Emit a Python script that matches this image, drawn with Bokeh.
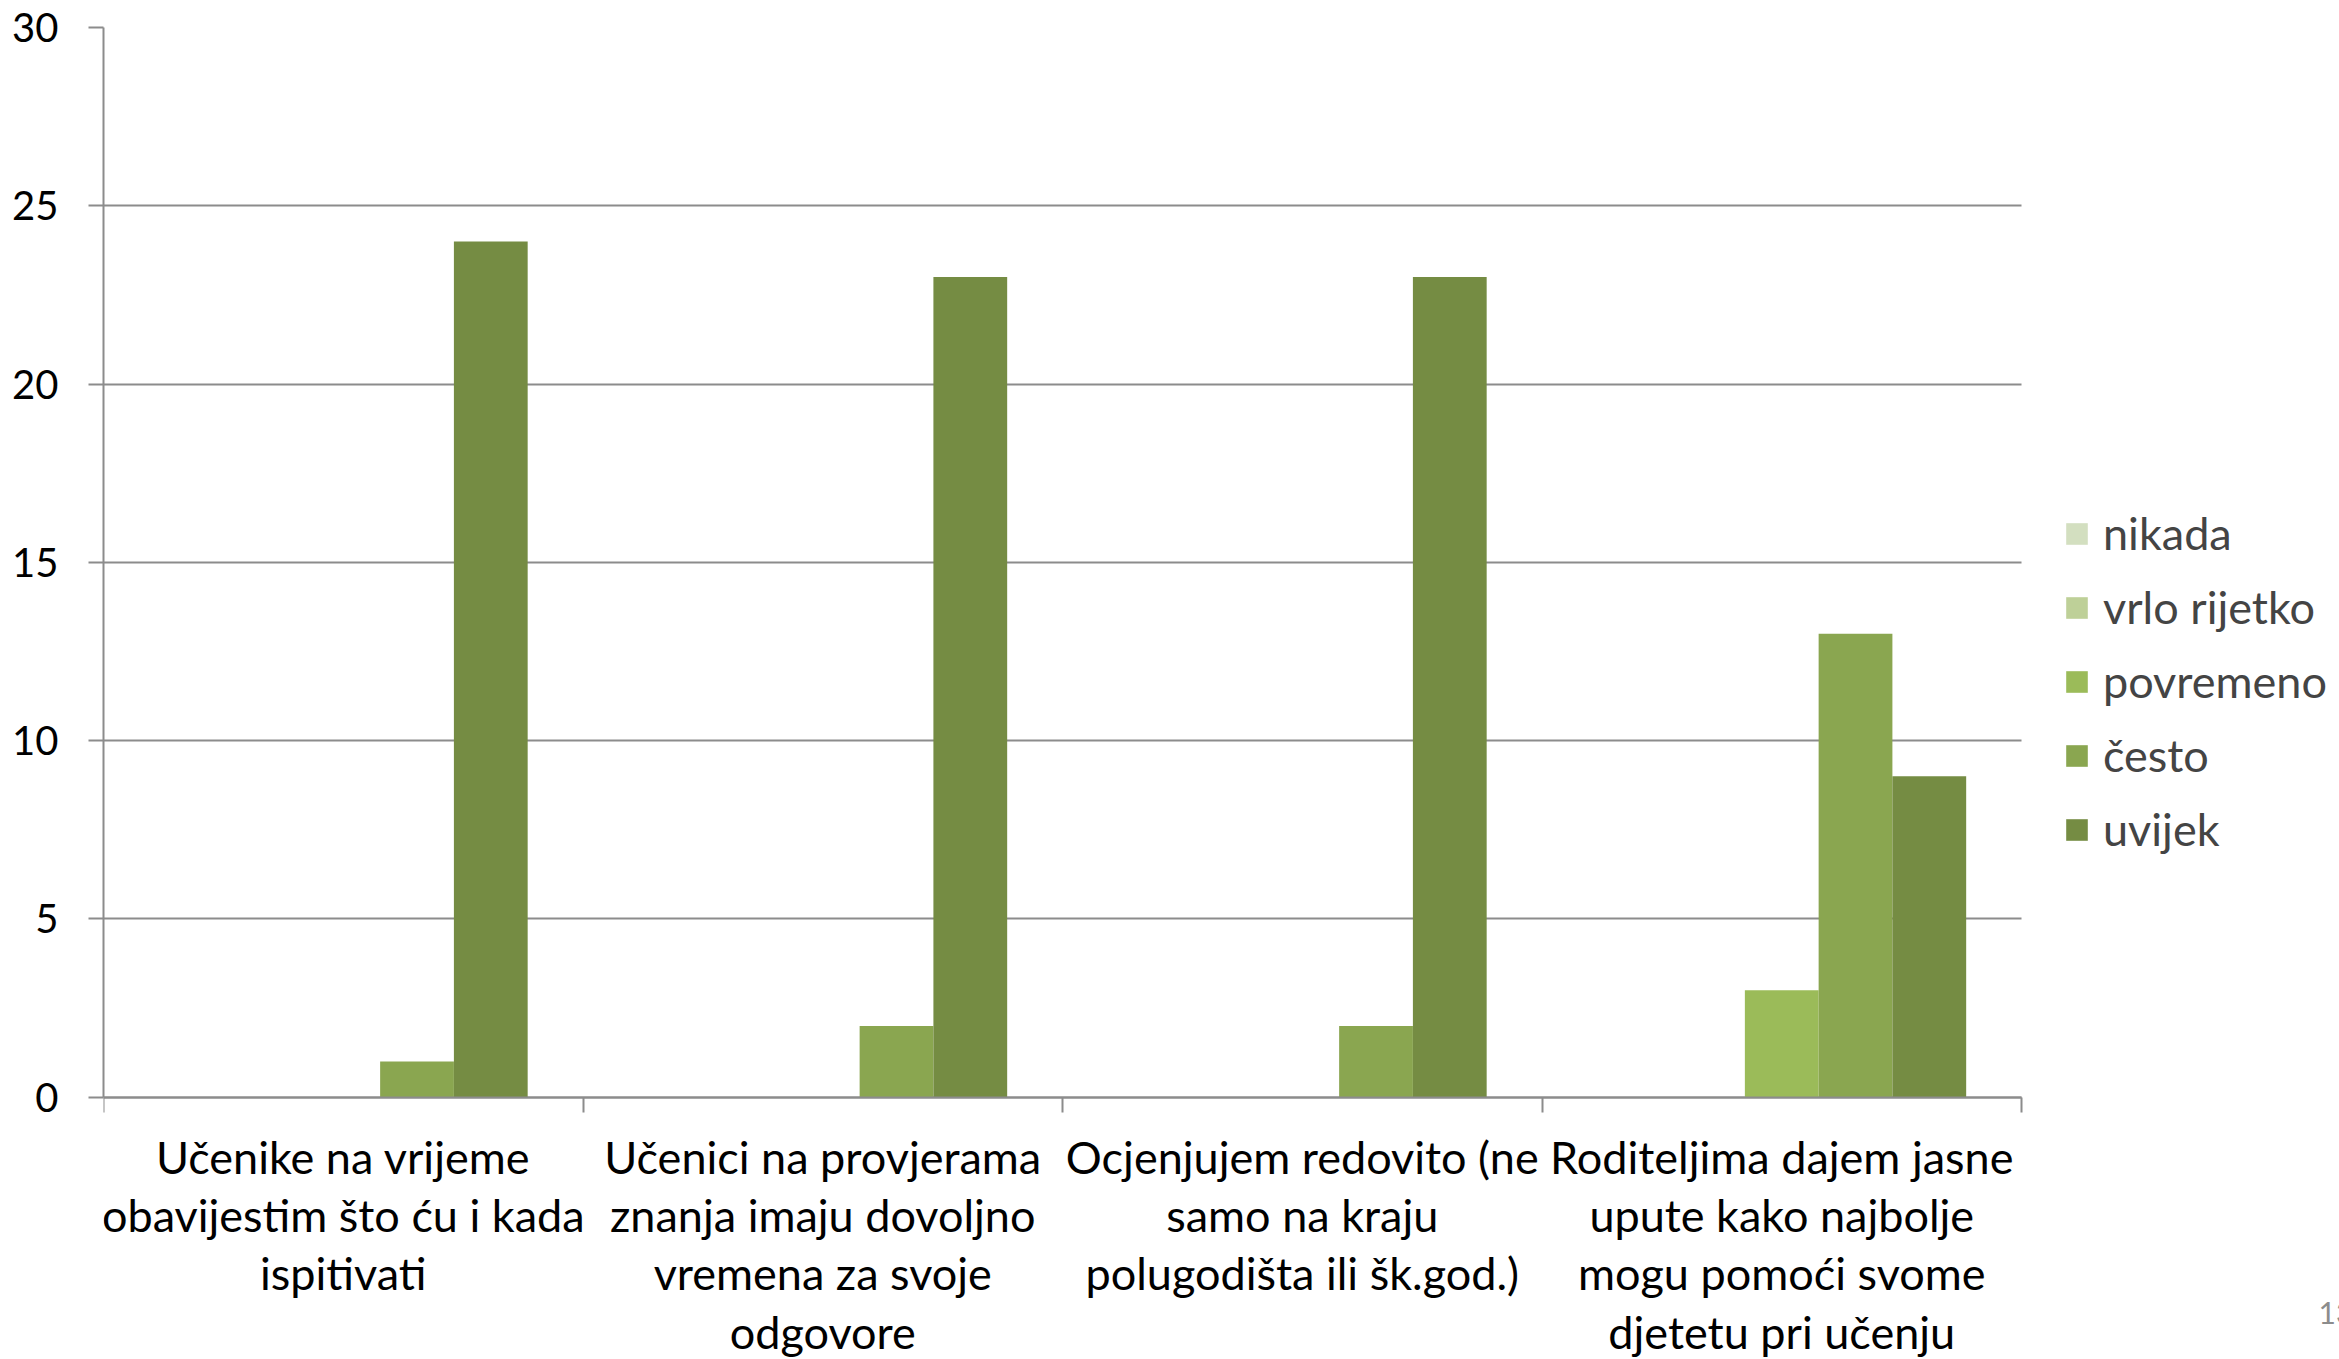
from bokeh.plotting import figure
from bokeh.models import Range1d, FixedTicker, Legend, LegendItem, Grid
from bokeh.core.properties import value
from bokeh.embed import file_html
from bokeh.resources import INLINE

# ---- data ----
category_lines = [
    ["Učenike na vrijeme", "obavijestim što ću i kada", "ispitivati"],
    ["Učenici na provjerama", "znanja imaju dovoljno", "vremena za svoje", "odgovore"],
    ["Ocjenjujem redovito (ne", "samo na kraju", "polugodišta ili šk.god.)"],
    ["Roditeljima dajem jasne", "upute kako najbolje", "mogu pomoći svome", "djetetu pri učenju"],
]
series_names = ["nikada", "vrlo rijetko", "povremeno", "često", "uvijek"]
nikada = [0, 0, 0, 0]
vrlo_rijetko = [0, 0, 0, 0]
povremeno = [0, 0, 0, 3]
cesto = [1, 2, 2, 13]
uvijek = [24, 23, 23, 9]
y_ticks = [0, 5, 10, 15, 20, 25, 30]
page_number = "13"

colors = ["#D3DFC0", "#BED098", "#9BBB59", "#8AA650", "#758C43"]
series = [nikada, vrlo_rijetko, povremeno, cesto, uvijek]

FONT = "Lato"
GRID = "#8C8C8C"
n_cat = len(category_lines)

# ---- layout constants (pixels) ----
W, H = 2339, 1359
LEFT, TOP, BOTTOM = 103, 27, 0
CAT_W = 479.5                       # pixel width of one category
Y_MAX = 30
AXIS_Y = 1096.7                     # pixel row of y = 0
ppu = (AXIS_Y - TOP) / Y_MAX        # pixels per y unit
frame_w = W - LEFT
frame_bottom = H - BOTTOM
x_end = frame_w / CAT_W
y_start = -(frame_bottom - AXIS_Y) / ppu

p = figure(width=W, height=H,
           x_range=Range1d(0, x_end), y_range=Range1d(y_start, Y_MAX),
           output_backend="svg", toolbar_location=None,
           min_border_left=LEFT, min_border_right=0,
           min_border_top=TOP, min_border_bottom=BOTTOM)
p.outline_line_color = None

n_series = len(series)
bw = 1.0 / (n_series + 1.5)   # Excel gap width 150%
renderers = []
for j, (vals, col) in enumerate(zip(series, colors)):
    xs = [i + 0.5 + (j - (n_series - 1) / 2) * bw for i in range(len(vals))]
    r = p.vbar(x=xs, top=vals, bottom=0, width=bw, fill_color=col, line_color=None)
    renderers.append(r)

# y axis
p.yaxis.ticker = FixedTicker(ticks=y_ticks)
p.yaxis.bounds = (0, Y_MAX)
p.yaxis.axis_line_color = GRID
p.yaxis.axis_line_width = 2
p.yaxis.major_tick_line_color = GRID
p.yaxis.major_tick_line_width = 2
p.yaxis.major_tick_out = 15
p.yaxis.major_tick_in = 0
p.yaxis.minor_tick_line_color = None
p.yaxis.major_label_text_font = FONT
p.yaxis.major_label_text_font_size = "40px"
p.yaxis.major_label_text_color = "black"
p.yaxis.major_label_standoff = 30

# x axis at y = 0 with tick marks at category boundaries
p.xaxis.fixed_location = 0
p.xaxis.bounds = (0, n_cat)
p.xaxis.ticker = FixedTicker(ticks=[], minor_ticks=list(range(n_cat + 1)))
p.xaxis.axis_line_color = GRID
p.xaxis.axis_line_width = 2
p.xaxis.major_tick_out = 0
p.xaxis.major_tick_in = 0
p.xaxis.major_label_standoff = 0
p.xaxis.minor_tick_line_color = GRID
p.xaxis.minor_tick_line_width = 2
p.xaxis.minor_tick_out = 15
p.xaxis.minor_tick_in = 0

# grid
p.xgrid.grid_line_color = None
p.ygrid.ticker = FixedTicker(ticks=y_ticks)
if "cross_bounds" in Grid.properties():
    p.ygrid.grid_line_color = GRID
    p.ygrid.grid_line_width = 2
    p.ygrid.cross_bounds = (0, n_cat)
else:
    p.ygrid.grid_line_color = None
    p.segment(x0=[0] * len(y_ticks), x1=[n_cat] * len(y_ticks), y0=y_ticks, y1=y_ticks,
              line_color=GRID, line_width=2, level="underlay")

# category labels below the axis
LINE0, LINE_STEP = 59.5, 58.3
for k in range(max(len(l) for l in category_lines)):
    xs, ys, ts = [], [], []
    for i, lines in enumerate(category_lines):
        if k < len(lines):
            xs.append(i + 0.5)
            ys.append(-(LINE0 + k * LINE_STEP) / ppu)
            ts.append(lines[k])
    p.text(x=xs, y=ys, text=ts, text_align="center", text_baseline="middle",
           text_font=value(FONT), text_font_size="45px", text_color="black")

# page number (cut at the right edge, as in the original slide)
p.text(x=[(2318 - LEFT) / CAT_W], y=[-(1312 - AXIS_Y) / ppu], text=[page_number],
       text_align="left", text_baseline="middle",
       text_font=value(FONT), text_font_size="30px", text_color="#8C8C8C")

# legend
items = [LegendItem(label=name, renderers=[r]) for name, r in zip(series_names, renderers)]
legend = Legend(items=items, location=(1960, round(frame_bottom - 856)), orientation="vertical",
                glyph_width=27, glyph_height=27, label_height=27,
                label_text_font=FONT, label_text_font_size="45px",
                label_standoff=13, spacing=20, padding=0, margin=0,
                border_line_color=None, background_fill_alpha=0)
p.add_layout(legend, "center")

open("out.html", "w").write(file_html(p, INLINE))
